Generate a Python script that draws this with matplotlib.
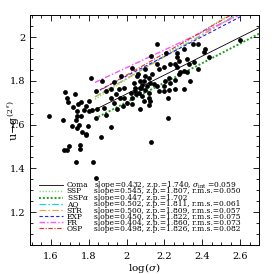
import numpy as np
import matplotlib
matplotlib.use("Agg")
import matplotlib.pyplot as plt
from matplotlib.lines import Line2D
from matplotlib.ticker import MultipleLocator

plt.rcParams['font.family'] = ['DejaVu Serif']
plt.rcParams['mathtext.fontset'] = 'dejavuserif'

# galaxies: log(sigma), u-g colour
logsig = [1.591, 1.675, 1.726, 1.687, 1.693, 1.663, 1.719, 1.745, 1.758, 1.802,
          1.784, 1.775, 1.740, 1.737, 1.758, 1.732, 1.714, 1.749, 1.740, 1.796,
          1.766, 1.784, 1.863, 1.919, 1.819, 1.845, 1.811, 1.872, 1.837, 1.889,
          1.933, 1.972, 1.916, 1.959, 1.986, 1.942, 1.916, 1.965, 1.986, 2.021,
          2.003, 1.933, 1.880, 1.951, 1.982, 2.029, 2.056, 2.070, 2.074, 2.047,
          2.065, 2.070, 1.696, 1.754, 1.889, 1.837, 1.670, 1.687, 1.753, 1.732,
          1.823, 1.840, 1.787, 1.802, 2.047,
          2.161, 2.600, 2.351, 2.375, 2.302, 2.416, 2.407, 2.130, 2.211, 2.266,
          2.266, 2.275, 2.319, 2.161, 2.196, 2.232, 2.258, 2.328, 2.354, 2.266,
          2.302, 2.284, 2.170, 2.100, 2.135, 2.275, 2.319, 2.100, 2.117, 2.126,
          2.109, 2.161, 2.205, 2.223, 2.232, 2.258, 2.337, 2.196, 2.170, 2.117,
          2.196, 2.223, 2.258, 2.302, 2.117, 2.126, 2.217, 2.217, 2.130, 2.144,
          2.433, 2.380, 2.030, 2.060, 2.090, 2.040, 2.080, 2.050, 2.100, 2.030,
          2.080, 2.120, 2.090, 2.070]
ug = [1.638, 1.751, 1.742, 1.723, 1.703, 1.623, 1.680, 1.693, 1.703, 1.708,
      1.685, 1.666, 1.662, 1.639, 1.639, 1.623, 1.593, 1.600, 1.585, 1.593,
      1.565, 1.554, 1.542, 1.589, 1.665, 1.669, 1.811, 1.800, 1.754, 1.754,
      1.796, 1.823, 1.762, 1.762, 1.769, 1.739, 1.723, 1.723, 1.723, 1.746,
      1.700, 1.700, 1.677, 1.669, 1.685, 1.693, 1.823, 1.800, 1.769, 1.769,
      1.746, 1.669, 1.503, 1.508, 1.643, 1.628, 1.485, 1.485, 1.489, 1.431,
      1.431, 1.354, 1.557, 1.662, 1.754,
      1.966, 1.988, 1.969, 1.969, 1.946, 1.946, 1.931, 1.912, 1.928, 1.928,
      1.908, 1.892, 1.900, 1.877, 1.862, 1.877, 1.877, 1.877, 1.885, 1.862,
      1.846, 1.838, 1.854, 1.854, 1.831, 1.831, 1.838, 1.823, 1.815, 1.792,
      1.777, 1.777, 1.800, 1.812, 1.792, 1.803, 1.800, 1.777, 1.754, 1.746,
      1.754, 1.757, 1.762, 1.762, 1.723, 1.708, 1.723, 1.631, 1.520, 1.785,
      1.908, 1.855, 1.860, 1.830, 1.800, 1.790, 1.780, 1.740, 1.760, 1.720,
      1.730, 1.690, 1.710, 1.766]

# fitted relations, u-g = zp + slope*(log sigma - 2)
names = ['Coma', 'SSP', r'SSP$\alpha$', 'AQ', 'STR', 'EXP', 'FR', 'OSP']
slopes = [0.432, 0.545, 0.447, 0.502, 0.500, 0.450, 0.404, 0.498]
zps = [1.740, 1.807, 1.702, 1.811, 1.809, 1.822, 1.860, 1.826]
scatter_txt = [r', $\sigma_{\rm int}$ =0.059', ', r.m.s.=0.050', '',
               ', r.m.s.=0.061', ', r.m.s.=0.057', ', r.m.s.=0.075',
               ', r.m.s.=0.073', ', r.m.s.=0.082']
fit_range = [1.833, 2.75]

colors = ['black', '#7fe07f', '#1fa01f', '#00e0e0', '#ffa040', '#2020ff', '#ff55ff', '#ff2020']
styles = ['-', (0, (1, 1.2)), (0, (1, 1)), (0, (6, 2, 1.5, 2)), (0, (6, 2, 1.5, 2)),
          (0, (3, 2)), (0, (4, 1.5, 1, 1.5)), (0, (4, 1.5, 1, 1.5))]
widths = [0.6, 1.0, 1.4, 0.8, 0.8, 0.8, 1.0, 0.8]

fig = plt.figure(figsize=(2.74, 2.74), dpi=100)
ax = fig.add_axes([0.1095, 0.1058, 0.836, 0.839])

ax.scatter(logsig, ug, s=12, c='black', linewidths=0, zorder=3)

xf = np.array(fit_range)
handles = []
for n, s, z, c, ls, lw in zip(names, slopes, zps, colors, styles, widths):
    h, = ax.plot(xf, z + s * (xf - 2.0), color=c, ls=ls, lw=lw, zorder=2)
    handles.append(h)

ax.set_xlim(1.49, 2.7)
ax.set_ylim(1.05, 2.1)
ax.xaxis.set_major_locator(MultipleLocator(0.2))
ax.xaxis.set_minor_locator(MultipleLocator(0.05))
ax.yaxis.set_major_locator(MultipleLocator(0.2))
ax.yaxis.set_minor_locator(MultipleLocator(0.05))
ax.xaxis.set_major_formatter(plt.FuncFormatter(lambda v, p: '%g' % round(v, 2)))
ax.yaxis.set_major_formatter(plt.FuncFormatter(lambda v, p: '%g' % round(v, 2)))
ax.tick_params(which='both', direction='in', top=True, right=True, labelsize=7, width=0.6)
ax.tick_params(which='major', length=4.5)
ax.tick_params(axis='x', which='major', pad=5)
ax.tick_params(which='minor', length=2.2)
for sp in ax.spines.values():
    sp.set_linewidth(0.7)

ax.set_xlabel(r'log($\sigma$)', fontsize=7.5, labelpad=0)
ax.set_ylabel(r"u$-$g$^{\,(2'')}$", fontsize=8)
ax.yaxis.set_label_coords(-0.035, 0.54)

stats = ['slope=%.3f, z.p.=%.3f%s' % (s, z, t) for s, z, t in zip(slopes, zps, scatter_txt)]

leg1 = ax.legend(handles, names, loc='upper left', bbox_to_anchor=(0.039, 0.277),
                 frameon=False, fontsize=5.4, handlelength=3.2, handletextpad=0.5,
                 labelspacing=-0.26, borderpad=0, borderaxespad=0)

# stats column, aligned on the baselines of the legend rows
fig.canvas.draw()
fh = fig.get_size_inches()[1] * fig.dpi
for t, s in zip(leg1.get_texts(), stats):
    yb = t.get_transform().transform((0, 0))[1]
    fig.text(93.5 / 274, yb / fh, s, fontsize=5.4, va='baseline', ha='left')

fig.savefig('out.png', dpi=100)
